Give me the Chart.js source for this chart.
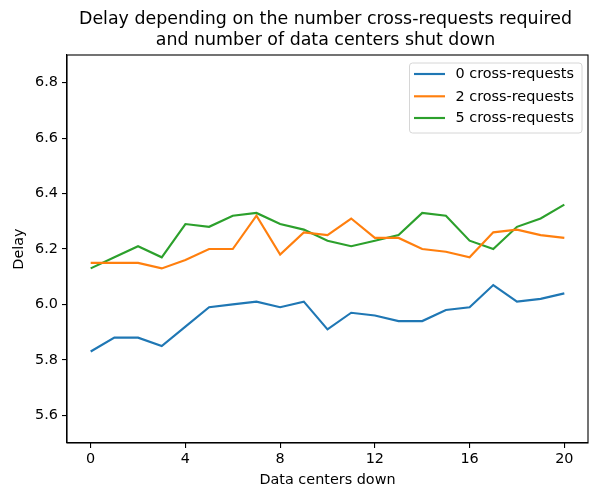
<!DOCTYPE html>
<html>
<head>
<meta charset="utf-8">
<script src="https://cdn.jsdelivr.net/npm/chart.js@4/dist/chart.umd.min.js"></script>
<style>
  html, body { margin: 0; padding: 0; background: #fff; }
  #c { display: block; }
</style>
</head>
<body>
<canvas id="c" width="589" height="491"></canvas>
<script>
// ---- Data ----
const xValues = [0,1,2,3,4,5,6,7,8,9,10,11,12,13,14,15,16,17,18,19,20];
const series0 = [5.83,5.88,5.88,5.85,5.92,5.99,6.00,6.01,5.99,6.01,5.91,5.97,5.96,5.94,5.94,5.98,5.99,6.07,6.01,6.02,6.04];
const series2 = [6.15,6.15,6.15,6.13,6.16,6.20,6.20,6.32,6.18,6.26,6.25,6.31,6.24,6.24,6.20,6.19,6.17,6.26,6.27,6.25,6.24];
const series5 = [6.13,6.17,6.21,6.17,6.29,6.28,6.32,6.33,6.29,6.27,6.23,6.21,6.23,6.25,6.33,6.32,6.23,6.20,6.28,6.31,6.36];
const seriesLabels = ['0 cross-requests', '2 cross-requests', '5 cross-requests'];
const xTicks = [0, 4, 8, 12, 16, 20];
const yTicks = [5.6, 5.8, 6.0, 6.2, 6.4, 6.6, 6.8];
const titleLines = ['Delay depending on the number cross-requests required', 'and number of data centers shut down'];
const xTitle = 'Data centers down';
const yTitle = 'Delay';

const colors = ['#1f77b4', '#ff7f0e', '#2ca02c'];
const FONT = "'DejaVu Sans', sans-serif";
const TICK_SIZE = 14.4;
const TITLE_SIZE = 17.4;

function toPoints(arr) { return xValues.map((x, i) => ({x: x, y: arr[i]})); }
const allSeries = [series0, series2, series5];

const datasets = allSeries.map((s, i) => ({
  label: seriesLabels[i],
  data: toPoints(s),
  borderColor: colors[i],
  backgroundColor: colors[i],
  borderWidth: 2.15,
  pointRadius: 0,
  tension: 0,
  fill: false
}));

const framePlugin = {
  id: 'frame',
  afterDraw(chart) {
    const ctx = chart.ctx;
    const a = chart.chartArea;
    ctx.save();
    // axes frame
    ctx.strokeStyle = '#000';
    ctx.lineWidth = 1.1;
    ctx.strokeRect(a.left, a.top, a.right - a.left, a.bottom - a.top);

    // title
    ctx.fillStyle = '#000';
    ctx.font = TITLE_SIZE + 'px ' + FONT;
    ctx.textAlign = 'center';
    ctx.textBaseline = 'alphabetic';
    const cx = (a.left + a.right) / 2 - 2;
    ctx.fillText(titleLines[0], cx, 24);
    ctx.fillText(titleLines[1], cx, 45);

    // legend
    const bx = 409.5, by = 63, bw = 172.5, bh = 70, r = 3;
    ctx.beginPath();
    ctx.moveTo(bx + r, by);
    ctx.lineTo(bx + bw - r, by);
    ctx.quadraticCurveTo(bx + bw, by, bx + bw, by + r);
    ctx.lineTo(bx + bw, by + bh - r);
    ctx.quadraticCurveTo(bx + bw, by + bh, bx + bw - r, by + bh);
    ctx.lineTo(bx + r, by + bh);
    ctx.quadraticCurveTo(bx, by + bh, bx, by + bh - r);
    ctx.lineTo(bx, by + r);
    ctx.quadraticCurveTo(bx, by, bx + r, by);
    ctx.closePath();
    ctx.fillStyle = 'rgba(255,255,255,0.8)';
    ctx.fill();
    ctx.strokeStyle = '#d6d6d6';
    ctx.lineWidth = 1;
    ctx.stroke();

    ctx.font = TICK_SIZE + 'px ' + FONT;
    ctx.textAlign = 'left';
    ctx.textBaseline = 'middle';
    const rows = [74, 96.3, 118];
    chart.data.datasets.forEach((ds, i) => {
      const y = rows[i];
      ctx.strokeStyle = ds.borderColor;
      ctx.lineWidth = 2.15;
      ctx.beginPath();
      ctx.moveTo(414, y);
      ctx.lineTo(445, y);
      ctx.stroke();
      ctx.fillStyle = '#000';
      ctx.fillText(ds.label, 455.5, y + 0.5);
    });
    ctx.restore();
  }
};

new Chart(document.getElementById('c'), {
  type: 'line',
  data: { datasets: datasets },
  options: {
    responsive: false,
    animation: false,
    devicePixelRatio: 1,
    layout: { padding: { top: 55, right: 1, left: 0, bottom: 0 } },
    plugins: {
      legend: { display: false },
      title: { display: false },
      tooltip: { enabled: false }
    },
    scales: {
      x: {
        type: 'linear',
        min: -1,
        max: 21,
        afterBuildTicks: (scale) => { scale.ticks = xTicks.map(v => ({ value: v })); },
        afterFit: (scale) => { scale.height = 48; },
        grid: { display: true, drawOnChartArea: false, drawTicks: true, tickLength: 5, color: '#000', lineWidth: 1.1 },
        border: { display: true, color: '#000', width: 1.1 },
        ticks: {
          color: '#000',
          font: { family: FONT, size: TICK_SIZE },
          padding: 3,
          maxRotation: 0,
          autoSkip: false,
          callback: (v) => String(v)
        },
        title: {
          display: true,
          text: xTitle,
          color: '#000',
          font: { family: FONT, size: TICK_SIZE },
          padding: { top: 0, bottom: 2 }
        }
      },
      y: {
        type: 'linear',
        min: 5.5,
        max: 6.9,
        afterBuildTicks: (scale) => { scale.ticks = yTicks.map(v => ({ value: v })); },
        afterFit: (scale) => { scale.width = 67; },
        grid: { display: true, drawOnChartArea: false, drawTicks: true, tickLength: 5, color: '#000', lineWidth: 1.1 },
        border: { display: true, color: '#000', width: 1.1 },
        ticks: {
          color: '#000',
          font: { family: FONT, size: TICK_SIZE },
          padding: 4,
          autoSkip: false,
          callback: (v) => Number(v).toFixed(1)
        },
        title: {
          display: true,
          text: yTitle,
          color: '#000',
          font: { family: FONT, size: TICK_SIZE },
          padding: { top: 11, bottom: 0 }
        }
      }
    }
  },
  plugins: [framePlugin]
});
</script>
</body>
</html>
